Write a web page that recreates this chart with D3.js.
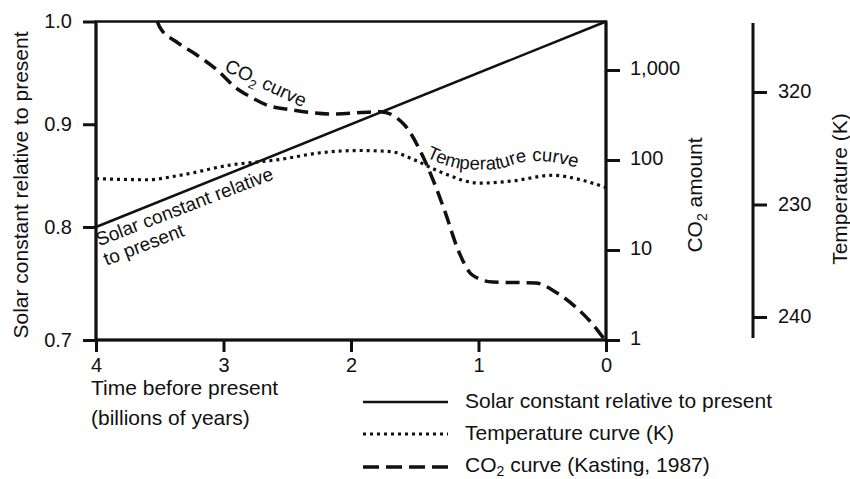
<!DOCTYPE html>
<html>
<head>
<meta charset="utf-8">
<script src="https://cdn.jsdelivr.net/npm/d3@7"></script>
<style>
body { margin: 0; background: #fff; }
text { font-family: "Liberation Sans", Arial, sans-serif; fill: #111; }
</style>
</head>
<body>
<div class="chart"></div>
<script>
'use strict';

// axis ticks
const timeTicks = [4, 3, 2, 1, 0];
const solarTicks = [0.7, 0.8, 0.9, 1.0];
const co2Ticks = [1, 10, 100, 1000];
const tempTickValues = [250, 240, 230];
const tempTickLabels = ['320', '230', '240']; // as printed on the figure

// solar constant relative to present
const solarTime = [4, 0];
const solarValue = [0.8, 1.0];

// temperature curve (K)
const tempTime = [4, 3.6, 3.34, 2.95, 2.56, 2.24, 1.93, 1.69, 1.51, 1.3, 0.99, 0.73, 0.42, 0.2, 0];
const tempValue = [242.3, 242.2, 242.6, 243.5, 244.0, 244.6, 244.8, 244.7, 244.0, 242.9, 241.9, 242.1, 242.6, 242.2, 241.5];

// CO2 curve (Kasting, 1987)
const co2Time = [3.52, 3.5, 3.37, 3.21, 3.05, 2.9, 2.79, 2.66, 2.46, 2.14, 1.77, 1.58, 1.46, 1.35, 1.26, 1.16, 1.05, 0.89, 0.55, 0.38, 0.23, 0.1, 0.02];
const co2Value = [3500, 3000, 2060, 1470, 1000, 630, 505, 408, 360, 324, 344, 245, 129, 57, 26, 10, 5.3, 4.4, 4.3, 3.3, 2.27, 1.47, 1.05];

// label path along the temperature curve (time, K)
const tempLabelTime = [1.41, 1.26, 1.15, 0.99, 0.83, 0.64, 0.44, 0.2];
const tempLabelValue = [244.2, 243.5, 243.2, 243.1, 243.2, 243.8, 243.8, 243.2];

const width = 850, height = 479;
const svg = d3.select('.chart').append('svg')
    .attr('width', width)
    .attr('height', height);

const x = d3.scaleLinear().domain([4, 0]).range([96, 606]);
const ySolar = d3.scaleLinear().domain([0.7, 0.8, 1.0]).range([340, 227, 21.5]);
const yCO2 = d3.scaleLog().domain([1, 1000]).range([340, 70]);
const yTemp = d3.scaleLinear().domain([250, 230]).range([92, 317]);
const tempAxisX = 753;

const styleAxis = (g, fontSize) => {
    g.selectAll('.tick line').attr('stroke', '#111').attr('stroke-width', 3);
    g.selectAll('.tick text').attr('font-size', fontSize).attr('fill', '#111')
        .style('font-family', '"Liberation Sans", Arial, sans-serif');
};

// frame
svg.append('rect')
    .attr('x', x(4)).attr('y', ySolar(1.0))
    .attr('width', x(0) - x(4)).attr('height', ySolar(0.7) - ySolar(1.0))
    .attr('fill', 'none').attr('stroke', '#111').attr('stroke-width', 2.5);
svg.append('line')
    .attr('x1', x(4)).attr('x2', x(4)).attr('y1', ySolar(1.0)).attr('y2', ySolar(0.7))
    .attr('stroke', '#111').attr('stroke-width', 3);
svg.append('line')
    .attr('x1', x(4)).attr('x2', x(0)).attr('y1', ySolar(0.7)).attr('y2', ySolar(0.7))
    .attr('stroke', '#111').attr('stroke-width', 3);
svg.append('line')
    .attr('x1', x(0)).attr('x2', x(0)).attr('y1', ySolar(1.0)).attr('y2', ySolar(0.7))
    .attr('stroke', '#111').attr('stroke-width', 3);

// left axis
svg.append('g')
    .attr('transform', `translate(${x(4)},0)`)
    .call(d3.axisLeft(ySolar).tickValues(solarTicks).tickFormat(d3.format('.1f')).tickSize(13).tickPadding(11))
    .call(g => g.select('.domain').remove())
    .call(g => styleAxis(g, 20));

// bottom axis
svg.append('g')
    .attr('transform', `translate(0,${ySolar(0.7)})`)
    .call(d3.axisBottom(x).tickValues(timeTicks).tickFormat(d3.format('d')).tickSize(12).tickPadding(6))
    .call(g => g.select('.domain').remove())
    .call(g => styleAxis(g, 20));

// CO2 axis
svg.append('g')
    .attr('transform', `translate(${x(0)},0)`)
    .call(d3.axisRight(yCO2).tickValues(co2Ticks).tickFormat(d3.format(',')).tickSize(14).tickPadding(10))
    .call(g => g.select('.domain').remove())
    .call(g => styleAxis(g, 20))
    .call(g => g.selectAll('.tick text').attr('dy', '0.22em'));

// temperature axis
svg.append('line')
    .attr('x1', tempAxisX).attr('x2', tempAxisX)
    .attr('y1', 23).attr('y2', 338)
    .attr('stroke', '#111').attr('stroke-width', 3);
svg.append('g')
    .attr('transform', `translate(${tempAxisX},0)`)
    .call(d3.axisRight(yTemp).tickValues(tempTickValues)
        .tickFormat((d, i) => tempTickLabels[i]).tickSize(14).tickPadding(11))
    .call(g => g.select('.domain').remove())
    .call(g => styleAxis(g, 20))
    .call(g => g.selectAll('.tick text').attr('dy', '0.28em'));

// axis titles
svg.append('text')
    .attr('transform', 'translate(28,185) rotate(-90)')
    .attr('text-anchor', 'middle').attr('font-size', 21)
    .text('Solar constant relative to present');

const co2Title = svg.append('text')
    .attr('transform', 'translate(702,195) rotate(-90)')
    .attr('text-anchor', 'middle').attr('font-size', 21);
co2Title.append('tspan').text('CO');
co2Title.append('tspan').attr('font-size', 14).attr('dy', 5).text('2');
co2Title.append('tspan').attr('dy', -5).text(' amount');

svg.append('text')
    .attr('transform', 'translate(847,189) rotate(-90)')
    .attr('text-anchor', 'middle').attr('font-size', 21)
    .text('Temperature (K)');

const xTitle = svg.append('text').attr('font-size', 21);
xTitle.append('tspan').attr('x', 91).attr('y', 395).text('Time before present');
xTitle.append('tspan').attr('x', 91).attr('y', 425).text('(billions of years)');

// series
const solarLine = d3.line().x(i => x(solarTime[i])).y(i => ySolar(solarValue[i]));
svg.append('path')
    .attr('d', solarLine(d3.range(solarTime.length)))
    .attr('fill', 'none').attr('stroke', '#111').attr('stroke-width', 2.5);

const tempLine = d3.line().x(i => x(tempTime[i])).y(i => yTemp(tempValue[i])).curve(d3.curveMonotoneX);
svg.append('path')
    .attr('d', tempLine(d3.range(tempTime.length)))
    .attr('fill', 'none').attr('stroke', '#111').attr('stroke-width', 3.2)
    .attr('stroke-dasharray', '3,4');

const co2Line = d3.line().x(i => x(co2Time[i])).y(i => yCO2(co2Value[i])).curve(d3.curveMonotoneX);
svg.append('path')
    .attr('d', co2Line(d3.range(co2Time.length)))
    .attr('fill', 'none').attr('stroke', '#111').attr('stroke-width', 3.5)
    .attr('stroke-dasharray', '14,7');

// annotations
const solarLabel = svg.append('text')
    .attr('transform', `translate(${x(3.976)},${ySolar(0.783)}) rotate(-21)`)
    .attr('font-size', 19);
solarLabel.append('tspan').attr('x', 0).attr('y', 0).text('Solar constant relative');
solarLabel.append('tspan').attr('x', 0).attr('y', 21).text('to present');

const co2Label = svg.append('text')
    .attr('transform', `translate(${x(3.0)},${yCO2(990)}) rotate(25)`)
    .attr('font-size', 19);
co2Label.append('tspan').text('CO');
co2Label.append('tspan').attr('font-size', 13).attr('dy', 5).text('2');
co2Label.append('tspan').attr('dy', -5).text(' curve');

const tempLabelLine = d3.line().x(i => x(tempLabelTime[i])).y(i => yTemp(tempLabelValue[i])).curve(d3.curveCatmullRom);
svg.append('path')
    .attr('id', 'tempLabelPath')
    .attr('d', tempLabelLine(d3.range(tempLabelTime.length)))
    .attr('fill', 'none');
svg.append('text')
    .attr('font-size', 18.5)
    .append('textPath')
    .attr('href', '#tempLabelPath')
    .text('Temperature curve');

// legend
const legendX1 = 363, legendX2 = 448, legendTextX = 465;
const legendRows = [
    {y: 402, dash: null, width: 2.5},
    {y: 434, dash: '3,4', width: 3.2},
    {y: 467, dash: '16,7', width: 3.5}
];
legendRows.forEach(r => {
    svg.append('line')
        .attr('x1', legendX1).attr('x2', legendX2)
        .attr('y1', r.y).attr('y2', r.y)
        .attr('stroke', '#111').attr('stroke-width', r.width)
        .attr('stroke-dasharray', r.dash);
});
svg.append('text').attr('x', legendTextX).attr('y', 408).attr('font-size', 21)
    .text('Solar constant relative to present');
svg.append('text').attr('x', legendTextX).attr('y', 440).attr('font-size', 21)
    .text('Temperature curve (K)');
const co2Legend = svg.append('text').attr('x', legendTextX).attr('y', 472).attr('font-size', 21);
co2Legend.append('tspan').text('CO');
co2Legend.append('tspan').attr('font-size', 14).attr('dy', 4).text('2');
co2Legend.append('tspan').attr('dy', -4).text(' curve (Kasting, 1987)');
</script>
</body>
</html>
